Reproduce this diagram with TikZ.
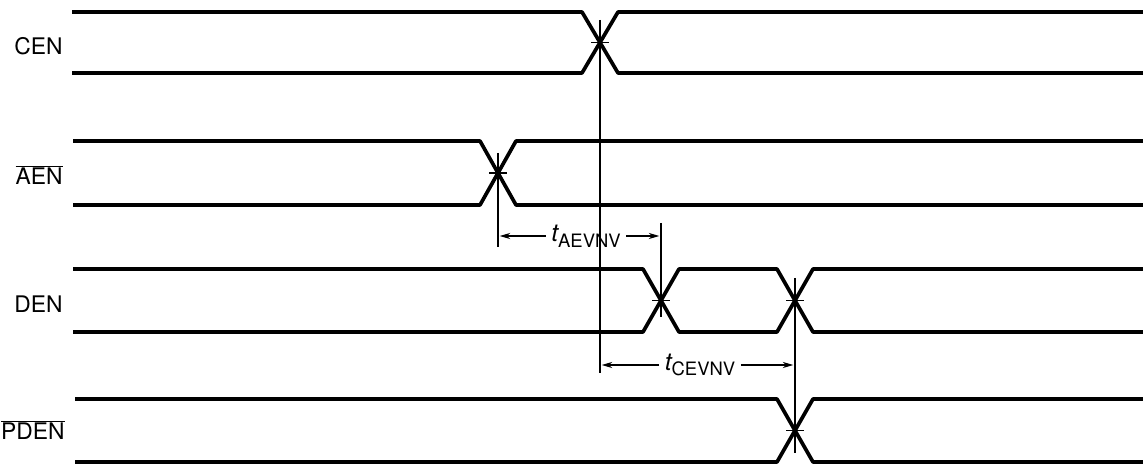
\documentclass[tikz,border=0pt]{standalone}
\usepackage{fontspec}
\setmainfont{TeX Gyre Heros}
\usetikzlibrary{arrows.meta}

\begin{document}
\begin{tikzpicture}[x=0.02cm, y=-0.02cm,
    sig/.style={line width=2.1pt, line join=round},
    guide/.style={line width=0.7pt},
    tick/.style={line width=0.8pt},
    dim/.style={-{Stealth[length=6pt, width=3.5pt]}, line width=0.7pt, shorten >=1pt},
    lbl/.style={anchor=base east, inner sep=0pt, font=\fontsize{13}{15}\selectfont},
    tlbl/.style={inner sep=3pt, font=\fontsize{14}{16}\selectfont}
]
    \useasboundingbox (0,0) rectangle (1143,465);

    % Crossing points
    \coordinate (cenX) at (600,42.5);
    \coordinate (aenX) at (498,173);
    \coordinate (denA) at (661,300.5);
    \coordinate (denB) at (795,300.5);
    \coordinate (pdenX) at (795,430.5);

    % Signal names
    \node[lbl] (cen) at (63,55) {CEN};
    \node[lbl] (aen) at (63,185) {$\overline{\mbox{AEN}}$};
    \node[lbl] (den) at (63,313) {DEN};
    \node[lbl] (pden) at (65,440) {$\overline{\mbox{PDEN}}$};

    % CEN
    \draw[sig] (72,12) -- (582,12) -- (618,73) -- (1143,73);
    \draw[sig] (72,73) -- (582,73) -- (618,12) -- (1143,12);

    % AEN
    \draw[sig] (73,141) -- (480,141) -- (516,205) -- (1143,205);
    \draw[sig] (73,205) -- (480,205) -- (516,141) -- (1143,141);

    % DEN
    \draw[sig] (73,269) -- (643,269) -- (679,332) -- (777,332) -- (813,269) -- (1143,269);
    \draw[sig] (73,332) -- (643,332) -- (679,269) -- (777,269) -- (813,332) -- (1143,332);

    % PDEN
    \draw[sig] (75,399) -- (777,399) -- (813,462) -- (1143,462);
    \draw[sig] (75,462) -- (777,462) -- (813,399) -- (1143,399);

    % Ticks on crossings
    \foreach \p in {cenX, aenX, denA, denB, pdenX}
        \draw[tick] ([xshift=-5pt]\p) -- ([xshift=5pt]\p);

    % Reference lines
    \coordinate (cenTop) at (600,20);
    \coordinate (cenBot) at (600,373);
    \coordinate (aenBot) at (498,247);
    \coordinate (denATop) at (661,223);
    \coordinate (denABot) at (661,317);
    \coordinate (denBTop) at (795,278);
    \coordinate (pdenBot) at (795,453);
    \draw[guide] (cenTop) -- (cenBot);
    \draw[guide] (aenX) ++(0,-20) -- (aenBot);
    \draw[guide] (denATop) -- (denABot);
    \draw[guide] (denBTop) -- (pdenBot);

    % Timing labels
    \node[tlbl] (tae) at (586,236) {\itshape t\upshape\raisebox{-0.45ex}{\fontsize{10.5}{11}\selectfont AEVNV}};
    \node[tlbl] (tce) at (700,365) {\itshape t\upshape\raisebox{-0.45ex}{\fontsize{10.5}{11}\selectfont CEVNV}};

    % Arrows
    \draw[dim] (tae.west) -- (aenX |- tae.west);
    \draw[dim] (tae.east) -- (denA |- tae.east);
    \draw[dim] (tce.west) -- (cenX |- tce.west);
    \draw[dim] (tce.east) -- (denB |- tce.east);
\end{tikzpicture}
\end{document}
